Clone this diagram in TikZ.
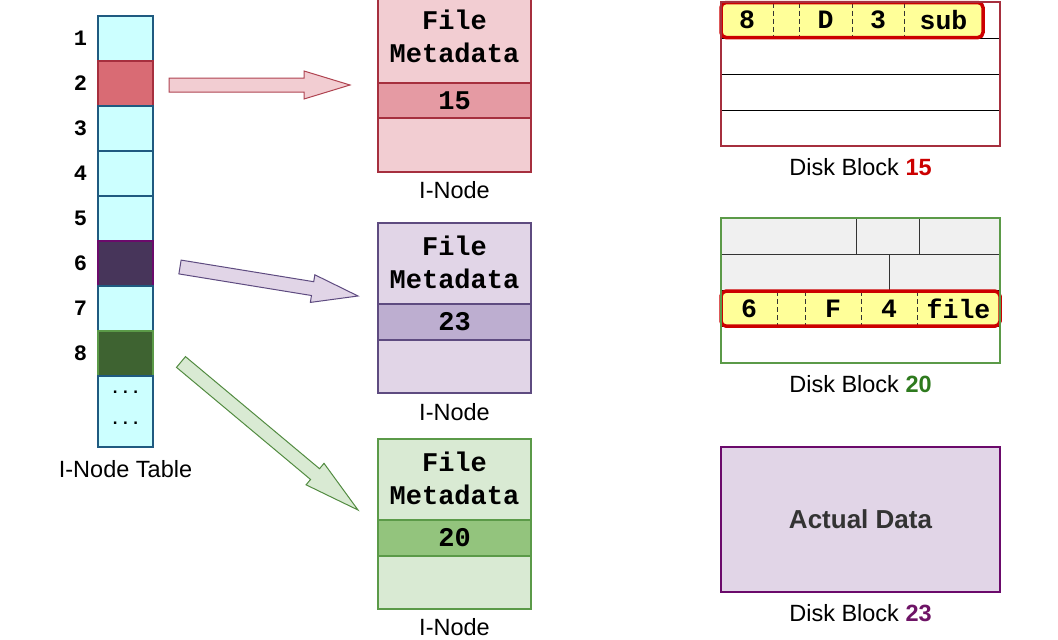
\documentclass[tikz,border=0pt]{standalone}
\usepackage{fontspec}
\setmainfont{Liberation Sans}
\setmonofont{Liberation Mono}
\usetikzlibrary{positioning,calc,backgrounds}

\definecolor{cellfill}{HTML}{CCFFFF}
\definecolor{celledge}{HTML}{1F5A80}
\definecolor{redcell}{HTML}{D96B74}
\definecolor{rededge}{HTML}{A62F3E}
\definecolor{redlight}{HTML}{F2CDD2}
\definecolor{redband}{HTML}{E59AA3}
\definecolor{purcell}{HTML}{47355A}
\definecolor{puredge}{HTML}{6B0A6B}
\definecolor{purframe}{HTML}{5E4B80}
\definecolor{purlight}{HTML}{E1D5E7}
\definecolor{purband}{HTML}{BDAED0}
\definecolor{grncell}{HTML}{3E6331}
\definecolor{grnedge}{HTML}{5B9A48}
\definecolor{grnlight}{HTML}{D9EAD3}
\definecolor{grnband}{HTML}{93C47D}
\definecolor{entyellow}{HTML}{FFFF99}
\definecolor{entred}{HTML}{CC0000}
\definecolor{slotgrey}{HTML}{F0F0F0}
\definecolor{numgreen}{HTML}{2E7A1E}
\definecolor{numpurple}{HTML}{6E1466}
\definecolor{datatext}{HTML}{333333}

\newcommand{\fatarrow}[4]{
	\coordinate (hb) at ($(#3)!#4!(#2)$);
	\draw[#1] ($(#2)!7pt!90:(#3)$) -- ($(hb)!7pt!90:(#3)$) -- ($(hb)!14pt!90:(#3)$) -- (#3)
		-- ($(hb)!14pt!-90:(#3)$) -- ($(hb)!7pt!-90:(#3)$) -- ($(#2)!7pt!-90:(#3)$) -- cycle;
}

\tikzset{
	cell/.style={draw=celledge, line width=2pt, fill=cellfill, minimum width=55pt, minimum height=45pt, inner sep=0pt, outer sep=0pt},
	num/.style={font=\ttfamily\bfseries\fontsize{22}{26}\selectfont, label distance=7.5pt},
	lbl/.style={font=\fontsize{23.5}{28}\selectfont, inner sep=0pt},
	inode/.style={line width=2.5pt, minimum width=153pt, inner sep=0pt, outer sep=0pt},
	meta/.style={font=\ttfamily\bfseries\fontsize{27}{33}\selectfont, align=center, inner sep=0pt},
	band/.style={line width=2pt, minimum width=153pt, minimum height=36pt, inner sep=0pt, font=\ttfamily\bfseries\fontsize{27}{30}\selectfont},
	slot/.style={draw=black, line width=0.8pt, minimum width=279pt, minimum height=36pt, inner sep=0pt, outer sep=0pt},
	greyslot/.style={draw=black!80, line width=0.8pt, fill=slotgrey, minimum height=36.25pt, inner sep=0pt, outer sep=0pt, anchor=north west},
	field/.style={minimum height=35pt, inner sep=0pt, outer sep=0pt, font=\ttfamily\bfseries\fontsize{26.5}{30}\selectfont},
	entryfill/.style={fill=entyellow, rounded corners=5pt},
	entry/.style={draw=entred, line width=3.5pt, rounded corners=5pt},
	fieldsep/.style={black!80, line width=0.8pt, dash pattern=on 5pt off 3pt},
	frame/.style={line width=2pt}
}

\begin{document}
\begin{tikzpicture}[x=1pt,y=-1pt]
\useasboundingbox (0,0) rectangle (1058,640);

% i-node table
\node[cell, label={[num]left:1}] (c1) at (125.5,38.5) {};
\node[cell, fill=redcell, draw=rededge, below=0pt of c1, label={[num]left:2}] (c2) {};
\node[cell, below=0pt of c2, label={[num]left:3}] (c3) {};
\node[cell, below=0pt of c3, label={[num]left:4}] (c4) {};
\node[cell, below=0pt of c4, label={[num]left:5}] (c5) {};
\node[cell, fill=purcell, draw=puredge, below=0pt of c5, label={[num]left:6}] (c6) {};
\node[cell, below=0pt of c6, label={[num]left:7}] (c7) {};
\node[cell, fill=grncell, draw=grnedge, below=0pt of c7, label={[num]left:8}] (c8) {};
\node[cell, minimum height=71pt, below=0pt of c8] (c9) {};
\node[font=\ttfamily\bfseries\fontsize{17}{31}\selectfont, align=center, inner sep=0pt] (dotsA) at ($(c9.center)+(0,-4)$) {...\\...};
\node[lbl, below=13pt of c9] (tabcap) {I-Node Table};

% i-nodes
\node[inode, minimum height=176pt, fill=redlight, draw=rededge] (inodeA) at (454.5,84) {};
\node[band, fill=redband, draw=rededge, minimum height=35pt] (ptrA) at (454.5,100.5) {15};
\node[meta] (metaA) at (454.5,36) {File\\Metadata};
\node[lbl, below=9pt of inodeA] (capIA) {I-Node};

\node[inode, minimum height=170pt, fill=purlight, draw=purframe] (inodeB) at (454.5,308) {};
\node[band, fill=purband, draw=purframe] (ptrB) at (454.5,322) {23};
\node[meta] (metaB) at (454.5,262.5) {File\\Metadata};
\node[lbl, below=10pt of inodeB] (capIB) {I-Node};

\node[inode, minimum height=170pt, fill=grnlight, draw=grnedge] (inodeC) at (454.5,524) {};
\node[band, fill=grnband, draw=grnedge] (ptrC) at (454.5,538) {20};
\node[meta] (metaC) at (454.5,478.5) {File\\Metadata};
\node[lbl, below=9.5pt of inodeC] (capIC) {I-Node};

% arrows
\coordinate (aRs) at (169,85);
\coordinate (aRe) at (350,85);
\coordinate (aPs) at (180,267);
\coordinate (aPe) at (358,296);
\coordinate (aGs) at (181,362);
\coordinate (aGe) at (358,510);
\fatarrow{fill=redlight, draw=rededge!90, line width=1pt}{aRs}{aRe}{46pt}
\fatarrow{fill=purlight, draw=purframe, line width=1pt}{aPs}{aPe}{46pt}
\fatarrow{fill=grnlight, draw=grnedge!90!black, line width=1pt}{aGs}{aGe}{56pt}

% disk block 15
\node[slot] (rowA1) at (860.5,20) {};
\node[slot, below=0pt of rowA1] (rowA2) {};
\node[slot, below=0pt of rowA2] (rowA3) {};
\node[slot, below=0pt of rowA3] (rowA4) {};
\node[field, minimum width=52pt, right=0pt of rowA1.west] (fA1) {8};
\node[field, minimum width=26pt, right=0pt of fA1] (fA2) {};
\node[field, minimum width=53pt, right=0pt of fA2] (fA3) {D};
\node[field, minimum width=52pt, right=0pt of fA3] (fA4) {3};
\node[field, minimum width=79pt, right=0pt of fA4] (fA5) {sub};
\begin{scope}[on background layer]
\fill[entryfill] (fA1.north west) rectangle (fA5.south east);
\end{scope}
\draw[fieldsep] (fA1.north east) -- (fA1.south east);
\draw[fieldsep] (fA2.north east) -- (fA2.south east);
\draw[fieldsep] (fA3.north east) -- (fA3.south east);
\draw[fieldsep] (fA4.north east) -- (fA4.south east);
\draw[entry] (fA1.north west) rectangle (fA5.south east);
\draw[frame, draw=rededge] (rowA1.north west) rectangle (rowA4.south east);
\node[lbl, below=12pt of rowA4] (capA) {Disk Block \textcolor{entred}{\textbf{15}}};

% disk block 20
\node[greyslot, minimum width=135pt] (gB1) at (721,218) {};
\node[greyslot, minimum width=63pt, right=0pt of gB1] (gB2) {};
\node[greyslot, minimum width=81pt, right=0pt of gB2] (gB3) {};
\node[greyslot, minimum width=168pt] (gB4) at (gB1.south west) {};
\node[greyslot, minimum width=111pt, right=0pt of gB4] (gB5) {};
\node[slot, minimum height=36.25pt, anchor=north west] (rowB3) at (gB4.south west) {};
\node[slot, minimum height=36.25pt, below=0pt of rowB3] (rowB4) {};
\node[field, minimum width=56pt, right=0pt of rowB3.west] (fB1) {6};
\node[field, minimum width=28pt, right=0pt of fB1] (fB2) {};
\node[field, minimum width=56pt, right=0pt of fB2] (fB3) {F};
\node[field, minimum width=56pt, right=0pt of fB3] (fB4) {4};
\node[field, minimum width=83pt, right=0pt of fB4] (fB5) {file};
\begin{scope}[on background layer]
\fill[entryfill] (fB1.north west) rectangle (fB5.south east);
\end{scope}
\draw[fieldsep] (fB1.north east) -- (fB1.south east);
\draw[fieldsep] (fB2.north east) -- (fB2.south east);
\draw[fieldsep] (fB3.north east) -- (fB3.south east);
\draw[fieldsep] (fB4.north east) -- (fB4.south east);
\draw[entry] (fB1.north west) rectangle (fB5.south east);
\draw[frame, draw=grnedge] (gB1.north west) rectangle (rowB4.south east);
\node[lbl, below=12pt of rowB4] (capB) {Disk Block \textcolor{numgreen}{\textbf{20}}};

% disk block 23
\node[frame, draw=puredge, fill=purlight, minimum width=279pt, minimum height=145pt, inner sep=0pt,
	font=\bfseries\fontsize{26}{30}\selectfont, text=datatext] (dataC) at (860.5,519.5) {Actual Data};
\node[lbl, below=11pt of dataC] (capC) {Disk Block \textcolor{numpurple}{\textbf{23}}};
\end{tikzpicture}
\end{document}
